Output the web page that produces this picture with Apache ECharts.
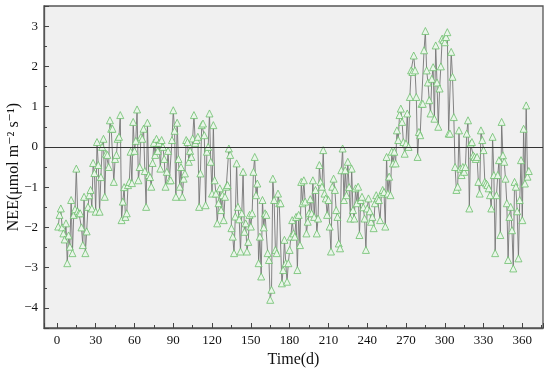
<!DOCTYPE html>
<html>
<head>
<meta charset="utf-8">
<script src="https://cdn.jsdelivr.net/npm/echarts@6/dist/echarts.min.js"></script>
<style>
html,body{margin:0;padding:0;background:#fff;}
#c{width:550px;height:370px;}
</style>
</head>
<body>
<div id="c"></div>
<script>
// NEE values, day 1..365
const nee = [
-1.98,-1.69,-1.53,-2.0,-2.15,-2.3,-1.9,-2.89,-2.2,-2.48,
-1.32,-2.64,-1.69,-1.55,-0.54,-1.6,-1.65,-1.65,-2.0,-2.44,
-1.24,-2.64,-2.1,-1.49,-1.2,-1.07,-1.53,-0.4,-0.65,-1.61,
0.12,-0.45,-1.61,-0.75,0.0,0.2,-1.24,-0.17,-0.2,-0.5,
0.66,0.45,0.45,-0.87,-0.3,-0.2,0.2,0.25,0.79,-1.82,
-1.36,-1.0,-1.74,-1.65,-0.95,-0.87,-0.12,-0.9,0.62,-0.1,
0.15,0.93,-0.83,-0.5,0.25,0.2,0.45,-0.6,-1.49,0.6,
-0.7,-0.75,-0.99,-0.4,0.1,-0.2,0.2,-0.1,0.1,-0.54,
0.17,0.0,-0.3,-0.99,-0.62,-0.1,-0.83,-0.83,0.17,0.91,
0.4,-1.24,0.6,-0.3,-0.99,-0.5,-1.24,-0.79,-0.66,0.17,
0.12,-0.37,-0.1,-0.25,0.21,0.79,0.1,0.17,0.25,-1.49,
-0.66,0.54,0.58,0.29,-1.45,-0.12,0.0,0.83,-0.37,-1.16,
0.54,-0.83,-1.16,-1.9,-1.4,-1.03,-1.57,-1.2,-1.82,-1.24,
-0.99,-0.95,-0.04,-0.2,-2.02,-2.23,-2.64,-1.73,-0.41,-1.49,
-1.8,-2.6,-1.65,-0.62,-2.11,-1.9,-2.6,-2.36,-1.69,-1.98,
-1.65,-0.62,-0.25,-1.2,-0.91,-2.89,-2.23,-3.22,-1.32,-2.0,
-1.65,-1.69,-2.64,-2.81,-3.8,-3.55,-0.79,-1.32,-2.56,-2.64,
-1.16,-1.4,-1.4,-3.39,-3.06,-2.31,-2.89,-3.35,-2.89,-2.56,
-2.23,-1.82,-2.15,-2.23,-1.74,-3.06,-1.69,-2.44,-0.87,-1.4,
-0.83,-1.36,-2.15,-1.86,-1.65,-1.3,-1.65,-0.83,-1.74,-1.07,
-2.15,-1.78,-0.45,-0.87,-0.99,-0.08,-1.16,-1.28,-1.69,-1.32,
-1.98,-2.6,-0.99,-0.79,-1.07,-1.57,-1.74,-2.4,-2.52,-0.58,
-0.04,-1.32,-0.58,-1.2,-0.37,-1.0,-1.78,-0.54,-1.57,-1.78,
-1.03,-1.4,-0.99,-2.19,-1.32,-1.24,-1.5,-1.78,-2.56,-1.53,
-1.28,-1.6,-1.86,-1.74,-2.02,-1.4,-1.2,-1.28,-1.32,-1.82,
-1.16,-1.07,-1.12,-1.98,-0.25,-1.16,-0.74,-1.2,-0.12,-0.41,
-0.12,-0.41,0.41,0.17,0.79,0.95,0.62,0.12,-0.17,0.08,
0.83,0.0,1.24,1.9,1.86,2.27,1.9,1.24,-0.25,0.37,
0.29,1.07,1.07,2.4,2.88,1.9,1.6,1.16,0.83,1.69,
1.98,0.7,2.52,1.6,0.5,1.45,2.0,2.69,2.65,2.6,
2.73,2.85,0.33,0.33,2.36,1.74,0.74,-0.5,-1.07,-0.99,
0.41,-0.54,-0.7,-0.5,-0.62,-0.5,0.33,0.66,-1.53,0.08,
0.12,-0.21,-0.25,-0.3,-0.25,-0.87,-1.16,0.41,0.17,-0.08,
-0.87,-0.91,-0.95,-1.03,-1.2,-1.53,0.25,-0.7,-2.64,-1.2,
-0.7,-0.33,-2.19,0.62,-0.21,-0.37,-0.79,-1.4,-2.81,-1.74,
-1.49,-2.07,-3.02,-0.87,-0.99,-1.6,-2.77,-1.32,-0.33,-1.82,
0.45,-0.91,1.03,-0.74,-0.6
];
const days = nee.map((_, i) => i + 1);
const xTitle = 'Time(d)';
const yTitle = 'NEE(μmol m⁻² s⁻¹)';

const chart = echarts.init(document.getElementById('c'), null, {renderer: 'canvas'});
const font = 'Liberation Serif, DejaVu Serif, serif';
const fmtNum = v => {
  if (!Number.isInteger(Math.round(v * 1000) / 1000) ) return '';
  const r = Math.round(v);
  return r < 0 ? '\u2212' + Math.abs(r) : String(r);
};
chart.setOption({
  animation: false,
  backgroundColor: '#ffffff',
  grid: {left: 44, right: 7, top: 6, bottom: 42, show: true,
         outerBoundsMode: 'none', containLabel: false,
         backgroundColor: '#f0f0f0', borderColor: '#555', borderWidth: 1.3},
  xAxis: {
    type: 'value', min: -10, max: 376, minInterval: 30, maxInterval: 30,
    name: xTitle, nameLocation: 'middle', nameGap: 22,
    nameTextStyle: {fontFamily: font, fontSize: 16, color: '#111'},
    axisLine: {show: true, onZero: false, lineStyle: {color: '#555', width: 1.3}},
    axisTick: {show: true, inside: true, length: 5, lineStyle: {color: '#444'}},
    minorTick: {show: true, splitNumber: 2, length: 3, lineStyle: {color: '#444'}},
    axisLabel: {fontFamily: font, fontSize: 13, color: '#111', margin: 6,
      formatter: v => (v % 30 === 0 ? String(v) : '')},
    splitLine: {show: false}
  },
  yAxis: {
    type: 'value', min: -4.5, max: 3.5, minInterval: 1, maxInterval: 1,
    name: yTitle, nameLocation: 'middle', nameGap: 22, nameMoveOverlap: false,
    nameTextStyle: {fontFamily: font, fontSize: 16, color: '#111'},
    axisLine: {show: true, onZero: false, lineStyle: {color: '#555', width: 1.3}},
    axisTick: {show: true, inside: true, length: 5, lineStyle: {color: '#444'}},
    minorTick: {show: true, splitNumber: 2, length: 3, lineStyle: {color: '#444'}},
    axisLabel: {fontFamily: font, fontSize: 13, color: '#111', margin: 6, formatter: fmtNum},
    splitLine: {show: false}
  },
  series: [{
    type: 'line',
    data: days.map((d, i) => [d, nee[i]]),
    showAllSymbol: true,
    symbol: 'triangle',
    symbolSize: 7,
    lineStyle: {color: '#767676', width: 0.9},
    itemStyle: {color: '#eaf5ea', borderColor: '#6cbf6c', borderWidth: 0.8},
    markLine: {
      silent: true, symbol: ['none', 'none'], label: {show: false},
      lineStyle: {color: '#333', width: 1.2, type: 'solid'},
      data: [{yAxis: 0}]
    },
    z: 3
  }]
});
</script>
</body>
</html>
